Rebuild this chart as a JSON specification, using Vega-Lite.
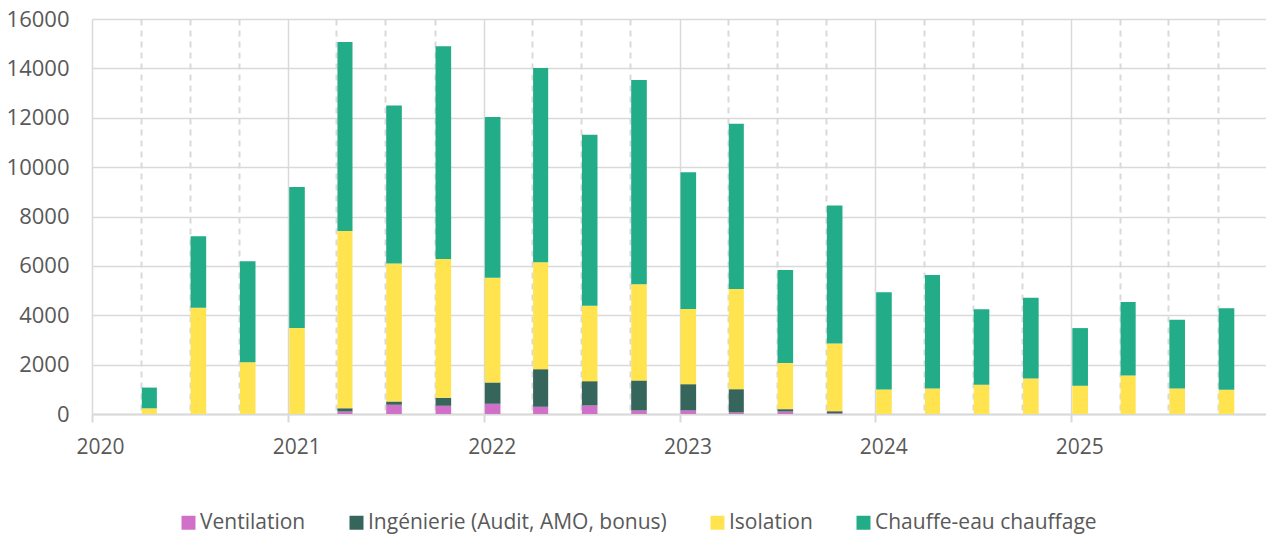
{
  "$schema": "https://vega.github.io/schema/vega-lite/v6.json",
  "width": 1175,
  "height": 395,
  "autosize": {"type": "none"},
  "padding": {"left": 92, "top": 19, "right": 0, "bottom": 122},
  "background": "white",
  "config": {
    "view": {"stroke": null},
    "font": "Open Sans"
  },
  "data": {
    "values": [
      {"date": "2020-04-01", "type": "Isolation", "rang": 3, "value": 230},
      {"date": "2020-04-01", "type": "Chauffe-eau chauffage", "rang": 4, "value": 840},
      {"date": "2020-07-01", "type": "Isolation", "rang": 3, "value": 4300},
      {"date": "2020-07-01", "type": "Chauffe-eau chauffage", "rang": 4, "value": 2900},
      {"date": "2020-10-01", "type": "Isolation", "rang": 3, "value": 2100},
      {"date": "2020-10-01", "type": "Chauffe-eau chauffage", "rang": 4, "value": 4090},
      {"date": "2021-01-01", "type": "Isolation", "rang": 3, "value": 3480},
      {"date": "2021-01-01", "type": "Chauffe-eau chauffage", "rang": 4, "value": 5710},
      {"date": "2021-04-01", "type": "Ventilation", "rang": 1, "value": 100},
      {"date": "2021-04-01", "type": "Ingénierie (Audit, AMO, bonus)", "rang": 2, "value": 135},
      {"date": "2021-04-01", "type": "Isolation", "rang": 3, "value": 7180},
      {"date": "2021-04-01", "type": "Chauffe-eau chauffage", "rang": 4, "value": 7656},
      {"date": "2021-07-01", "type": "Ventilation", "rang": 1, "value": 373},
      {"date": "2021-07-01", "type": "Ingénierie (Audit, AMO, bonus)", "rang": 2, "value": 134},
      {"date": "2021-07-01", "type": "Isolation", "rang": 3, "value": 5585},
      {"date": "2021-07-01", "type": "Chauffe-eau chauffage", "rang": 4, "value": 6408},
      {"date": "2021-10-01", "type": "Ventilation", "rang": 1, "value": 333},
      {"date": "2021-10-01", "type": "Ingénierie (Audit, AMO, bonus)", "rang": 2, "value": 324},
      {"date": "2021-10-01", "type": "Isolation", "rang": 3, "value": 5622},
      {"date": "2021-10-01", "type": "Chauffe-eau chauffage", "rang": 4, "value": 8621},
      {"date": "2022-01-01", "type": "Ventilation", "rang": 1, "value": 414},
      {"date": "2022-01-01", "type": "Ingénierie (Audit, AMO, bonus)", "rang": 2, "value": 864},
      {"date": "2022-01-01", "type": "Isolation", "rang": 3, "value": 4246},
      {"date": "2022-01-01", "type": "Chauffe-eau chauffage", "rang": 4, "value": 6506},
      {"date": "2022-04-01", "type": "Ventilation", "rang": 1, "value": 292},
      {"date": "2022-04-01", "type": "Ingénierie (Audit, AMO, bonus)", "rang": 2, "value": 1525},
      {"date": "2022-04-01", "type": "Isolation", "rang": 3, "value": 4328},
      {"date": "2022-04-01", "type": "Chauffe-eau chauffage", "rang": 4, "value": 7875},
      {"date": "2022-07-01", "type": "Ventilation", "rang": 1, "value": 345},
      {"date": "2022-07-01", "type": "Ingénierie (Audit, AMO, bonus)", "rang": 2, "value": 986},
      {"date": "2022-07-01", "type": "Isolation", "rang": 3, "value": 3057},
      {"date": "2022-07-01", "type": "Chauffe-eau chauffage", "rang": 4, "value": 6922},
      {"date": "2022-10-01", "type": "Ventilation", "rang": 1, "value": 142},
      {"date": "2022-10-01", "type": "Ingénierie (Audit, AMO, bonus)", "rang": 2, "value": 1217},
      {"date": "2022-10-01", "type": "Isolation", "rang": 3, "value": 3893},
      {"date": "2022-10-01", "type": "Chauffe-eau chauffage", "rang": 4, "value": 8278},
      {"date": "2023-01-01", "type": "Ventilation", "rang": 1, "value": 142},
      {"date": "2023-01-01", "type": "Ingénierie (Audit, AMO, bonus)", "rang": 2, "value": 1068},
      {"date": "2023-01-01", "type": "Isolation", "rang": 3, "value": 3042},
      {"date": "2023-01-01", "type": "Chauffe-eau chauffage", "rang": 4, "value": 5538},
      {"date": "2023-04-01", "type": "Ventilation", "rang": 1, "value": 61},
      {"date": "2023-04-01", "type": "Ingénierie (Audit, AMO, bonus)", "rang": 2, "value": 946},
      {"date": "2023-04-01", "type": "Isolation", "rang": 3, "value": 4056},
      {"date": "2023-04-01", "type": "Chauffe-eau chauffage", "rang": 4, "value": 6697},
      {"date": "2023-07-01", "type": "Ventilation", "rang": 1, "value": 100},
      {"date": "2023-07-01", "type": "Ingénierie (Audit, AMO, bonus)", "rang": 2, "value": 96},
      {"date": "2023-07-01", "type": "Isolation", "rang": 3, "value": 1866},
      {"date": "2023-07-01", "type": "Chauffe-eau chauffage", "rang": 4, "value": 3771},
      {"date": "2023-10-01", "type": "Ventilation", "rang": 1, "value": 30},
      {"date": "2023-10-01", "type": "Ingénierie (Audit, AMO, bonus)", "rang": 2, "value": 85},
      {"date": "2023-10-01", "type": "Isolation", "rang": 3, "value": 2745},
      {"date": "2023-10-01", "type": "Chauffe-eau chauffage", "rang": 4, "value": 5584},
      {"date": "2024-01-01", "type": "Isolation", "rang": 3, "value": 994},
      {"date": "2024-01-01", "type": "Chauffe-eau chauffage", "rang": 4, "value": 3934},
      {"date": "2024-04-01", "type": "Isolation", "rang": 3, "value": 1034},
      {"date": "2024-04-01", "type": "Chauffe-eau chauffage", "rang": 4, "value": 4596},
      {"date": "2024-07-01", "type": "Isolation", "rang": 3, "value": 1184},
      {"date": "2024-07-01", "type": "Chauffe-eau chauffage", "rang": 4, "value": 3054},
      {"date": "2024-10-01", "type": "Isolation", "rang": 3, "value": 1440},
      {"date": "2024-10-01", "type": "Chauffe-eau chauffage", "rang": 4, "value": 3273},
      {"date": "2025-01-01", "type": "Isolation", "rang": 3, "value": 1143},
      {"date": "2025-01-01", "type": "Chauffe-eau chauffage", "rang": 4, "value": 2337},
      {"date": "2025-04-01", "type": "Isolation", "rang": 3, "value": 1562},
      {"date": "2025-04-01", "type": "Chauffe-eau chauffage", "rang": 4, "value": 2973},
      {"date": "2025-07-01", "type": "Isolation", "rang": 3, "value": 1034},
      {"date": "2025-07-01", "type": "Chauffe-eau chauffage", "rang": 4, "value": 2787},
      {"date": "2025-10-01", "type": "Isolation", "rang": 3, "value": 981},
      {"date": "2025-10-01", "type": "Chauffe-eau chauffage", "rang": 4, "value": 3298}
    ]
  },
  "mark": {"type": "bar"},
  "encoding": {
    "x": {
      "field": "date",
      "timeUnit": "utcyearmonth",
      "type": "temporal",
      "title": null,
      "scale": {
        "type": "utc",
        "domain": [
          {"year": 2020, "month": 1, "date": 1, "utc": true},
          {"year": 2026, "month": 1, "date": 1, "utc": true}
        ]
      },
      "axis": {
        "tickCount": {"interval": "month", "step": 3},
        "labelExpr": "utcmonth(datum.value) == 0 && utcyear(datum.value) < 2026 ? utcFormat(datum.value, '%Y') : ''",
        "labelFont": "Open Sans",
        "labelFontSize": 21,
        "labelColor": "#595959",
        "labelPadding": 14,
        "labelOffset": 8,
        "labelFlush": false,
        "labelOverlap": false,
        "domainColor": "#d9d9d9",
        "domainWidth": 2,
        "tickColor": "#d9d9d9",
        "tickWidth": 2,
        "tickSize": 8,
        "tickOpacity": {"condition": {"test": "utcmonth(datum.value) == 0", "value": 1}, "value": 0},
        "grid": true,
        "gridColor": "#d9d9d9",
        "gridWidth": {"condition": {"test": "utcmonth(datum.value) == 0", "value": 1.5}, "value": 2},
        "gridDash": {"condition": {"test": "utcmonth(datum.value) == 0", "value": []}, "value": [6, 5]}
      }
    },
    "y": {
      "field": "value",
      "type": "quantitative",
      "aggregate": "sum",
      "stack": "zero",
      "title": null,
      "scale": {"domain": [0, 16000], "nice": false},
      "axis": {
        "values": [0, 2000, 4000, 6000, 8000, 10000, 12000, 14000, 16000],
        "format": "d",
        "labelFont": "Open Sans",
        "labelFontSize": 22,
        "labelColor": "#595959",
        "labelPadding": 23,
        "domain": false,
        "ticks": false,
        "gridColor": "#d9d9d9",
        "gridWidth": 1.5
      }
    },
    "color": {
      "field": "type",
      "type": "nominal",
      "sort": ["Ventilation", "Ingénierie (Audit, AMO, bonus)", "Isolation", "Chauffe-eau chauffage"],
      "scale": {
        "domain": ["Ventilation", "Ingénierie (Audit, AMO, bonus)", "Isolation", "Chauffe-eau chauffage"],
        "range": ["#d170c9", "#36655c", "#ffe44f", "#22ac88"]
      },
      "legend": {
        "title": null,
        "orient": "none",
        "direction": "horizontal",
        "legendX": 86,
        "legendY": 493,
        "symbolType": "square",
        "symbolSize": 196,
        "symbolStrokeWidth": 0,
        "labelFont": "Open Sans",
        "labelFontSize": 21,
        "labelColor": "#595959",
        "labelOffset": 1,
        "columnPadding": 40,
        "labelLimit": 400
      }
    },
    "order": {"field": "rang", "type": "quantitative", "sort": "ascending"}
  }
}
